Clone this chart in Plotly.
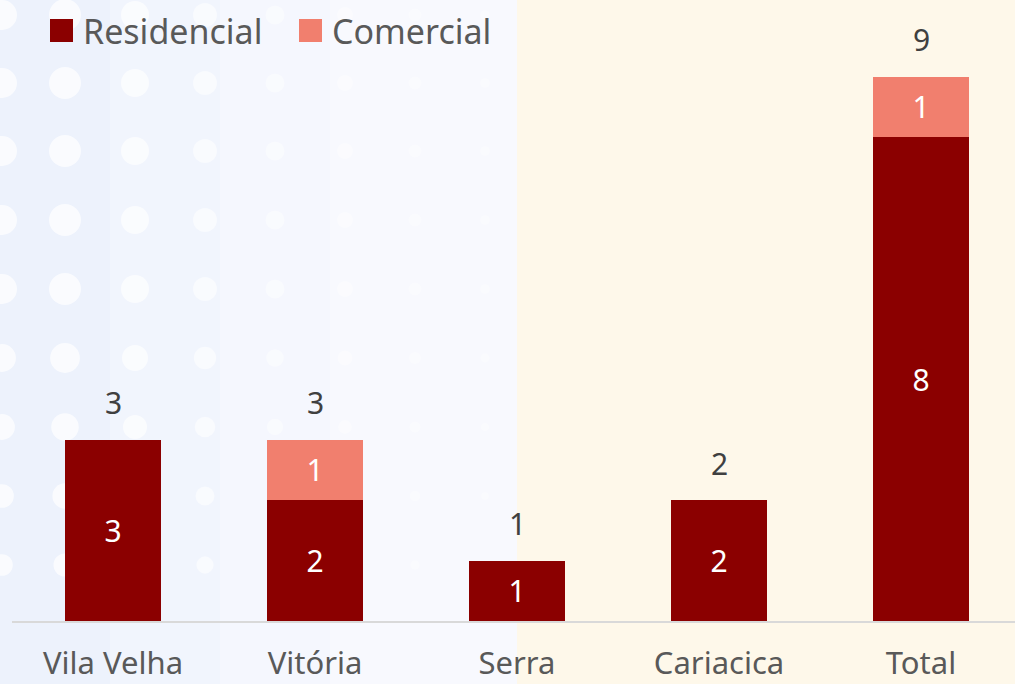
import plotly.graph_objects as go

categories = ["Vila Velha", "Vitória", "Serra", "Cariacica", "Total"]
residencial = [3, 2, 1, 2, 8]
comercial = [None, 1, None, None, 1]
series_names = ["Residencial", "Comercial"]
series_colors = ["#8B0000", "#F17F6E"]

totals = [r + (c or 0) for r, c in zip(residencial, comercial)]

W, H = 1015, 684
ML, MR, MT, MB = 12, 0, 0, 63
PW, PH = W - ML - MR, H - MT - MB
FONT = "Segoe UI, Noto Sans, Open Sans, sans-serif"


def px_x(px):
    return (px - ML) / PW


def px_y(py):
    return (H - MB - py) / PH


fig = go.Figure()
fig.add_trace(go.Bar(
    x=categories, y=residencial, name=series_names[0],
    marker=dict(color=series_colors[0], line=dict(width=0)),
    text=[str(v) for v in residencial], textposition="inside",
    insidetextanchor="middle",
    textfont=dict(color="white", size=30, family=FONT),
    showlegend=False, width=0.48,
))
fig.add_trace(go.Bar(
    x=categories, y=comercial, name=series_names[1],
    marker=dict(color=series_colors[1], line=dict(width=0)),
    text=["" if v is None else str(v) for v in comercial], textposition="inside",
    insidetextanchor="middle",
    textfont=dict(color="white", size=30, family=FONT),
    showlegend=False, width=0.48,
))

shapes = []
# background bands
bands = [(0, 110, "#edf2fc"), (110, 220, "#f1f5fd"), (220, 330, "#f5f7fe"),
         (330, 517, "#f8f9fe"), (517, 1015, "#fef8ea")]
for x0, x1, col in bands:
    shapes.append(dict(type="rect", xref="paper", yref="paper",
                       x0=px_x(x0), x1=px_x(x1), y0=px_y(H), y1=px_y(0),
                       fillcolor=col, line=dict(width=0), layer="below"))
# decorative dots
dot_x = [2, 65, 135, 205, 275, 345, 415, 485]
dot_r = [15, 16, 14, 12, 9.5, 8, 6.5, 5]
dot_a = [0.7, 0.7, 0.65, 0.55, 0.45, 0.4, 0.35, 0.3]
dot_y = [15, 83, 151, 220, 289, 358, 427, 496, 565]
for xi, ri, ai in zip(dot_x, dot_r, dot_a):
    for j, yi in enumerate(dot_y):
        r = ri * (1 - 0.07 * max(0, j - 4))
        shapes.append(dict(type="circle", xref="paper", yref="paper",
                           x0=px_x(xi - r), x1=px_x(xi + r),
                           y0=px_y(yi + r), y1=px_y(yi - r),
                           fillcolor="rgba(255,255,255,%.2f)" % ai,
                           line=dict(width=0), layer="below"))

# manual legend
annotations = []
leg_x = [50, 299]
for lx, name, col in zip(leg_x, series_names, series_colors):
    shapes.append(dict(type="rect", xref="paper", yref="paper",
                       x0=px_x(lx), x1=px_x(lx + 23), y0=px_y(42), y1=px_y(19),
                       fillcolor=col, line=dict(width=0)))
    annotations.append(dict(text=name, xref="paper", yref="paper",
                            x=px_x(lx + 31), y=px_y(31), xanchor="left",
                            yanchor="middle", showarrow=False,
                            font=dict(size=34, color="#595959", family=FONT)))

# totals above bars
for c, t in zip(categories, totals):
    annotations.append(dict(text=str(t), x=c, y=t, xref="x", yref="y",
                            yanchor="middle", yshift=37, showarrow=False,
                            font=dict(size=30, color="#404040", family=FONT)))

unit = 60.5
fig.update_layout(
    width=W, height=H,
    margin=dict(l=ML, r=MR, t=MT, b=MB, autoexpand=False),
    paper_bgcolor="#f2f5fd", plot_bgcolor="rgba(0,0,0,0)",
    barmode="stack", bargap=0.52,
    shapes=shapes, annotations=annotations,
    font=dict(family=FONT),
    xaxis=dict(range=[-0.5, -0.5 + PW / 202], showgrid=False, showline=True,
               linecolor="#d9d9d9", linewidth=2, ticks="", automargin=False,
               ticklabelstandoff=14,
               tickfont=dict(size=31, color="#595959", family=FONT)),
    yaxis=dict(range=[0, PH / unit], visible=False, showgrid=False,
               automargin=False),
)

fig.write_html("out.html", config={"displayModeBar": False},
               post_script="document.body.style.margin='0';document.body.style.overflow='hidden';")
